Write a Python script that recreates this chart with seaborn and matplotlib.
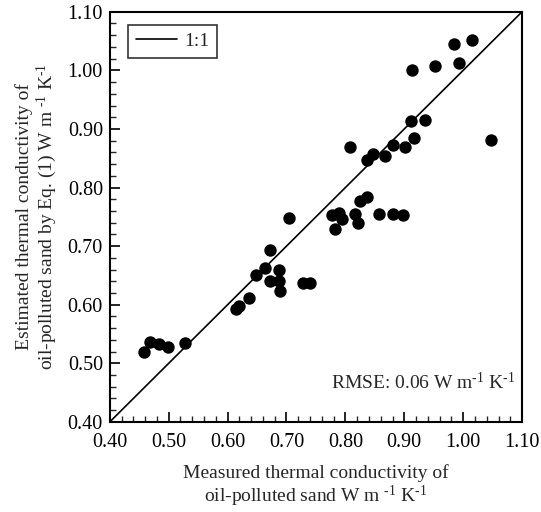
import numpy as np
import pandas as pd
import matplotlib
matplotlib.use("Agg")
import matplotlib.pyplot as plt
import seaborn as sns
from matplotlib.ticker import MultipleLocator, FormatStrFormatter

measured = [0.458, 0.468, 0.483, 0.499, 0.527, 0.614, 0.619, 0.637, 0.648, 0.663,
            0.672, 0.672, 0.688, 0.688, 0.689, 0.704, 0.728, 0.740, 0.777, 0.782,
            0.789, 0.794, 0.817, 0.821, 0.824, 0.837, 0.857, 0.881, 0.897, 0.808,
            0.836, 0.847, 0.868, 0.881, 0.901, 0.911, 0.916, 0.936, 0.913, 0.953,
            0.984, 0.993, 1.015, 1.047]
estimated = [0.519, 0.536, 0.533, 0.527, 0.534, 0.593, 0.598, 0.611, 0.651, 0.663,
             0.694, 0.641, 0.659, 0.641, 0.624, 0.748, 0.637, 0.637, 0.753, 0.729,
             0.757, 0.747, 0.755, 0.740, 0.777, 0.784, 0.755, 0.755, 0.753, 0.870,
             0.847, 0.858, 0.854, 0.873, 0.870, 0.913, 0.884, 0.916, 1.000, 1.008,
             1.045, 1.013, 1.052, 0.881]
one_to_one = [0.40, 1.10]
ticks = [0.40, 0.50, 0.60, 0.70, 0.80, 0.90, 1.00, 1.10]

df = pd.DataFrame({"measured": measured, "estimated": estimated})
line_df = pd.DataFrame({"x": one_to_one, "y": one_to_one})

sns.set_style("white")
plt.rcParams["font.family"] = ["Liberation Serif", "DejaVu Serif"]
plt.rcParams["mathtext.fontset"] = "custom"
plt.rcParams["mathtext.rm"] = "Liberation Serif"
plt.rcParams["mathtext.it"] = "Liberation Serif"
plt.rcParams["axes.unicode_minus"] = False

fig = plt.figure(figsize=(5.41, 5.12), dpi=100)
ax = fig.add_axes([0.203, 0.176, 0.762, 0.801])

sns.lineplot(data=line_df, x="x", y="y", ax=ax, color="black", linewidth=1.2,
             label="1:1", legend=False)
sns.scatterplot(data=df, x="measured", y="estimated", ax=ax, color="black",
                s=80, edgecolor="black", linewidth=0, zorder=3, legend=False)

ax.set_xlim(0.40, 1.10)
ax.set_ylim(0.40, 1.10)
ax.set_xticks(ticks)
ax.set_yticks(ticks)
ax.xaxis.set_major_formatter(FormatStrFormatter("%.2f"))
ax.yaxis.set_major_formatter(FormatStrFormatter("%.2f"))
ax.xaxis.set_minor_locator(MultipleLocator(0.02))
ax.yaxis.set_minor_locator(MultipleLocator(0.02))
ax.tick_params(axis="both", which="major", direction="in", length=7, width=1.2,
               labelsize=14.5, colors="black", bottom=True, left=True, top=False, right=False, pad=5)
ax.tick_params(axis="x", which="major", pad=8)
ax.tick_params(axis="both", which="minor", direction="in", length=4, width=1.0,
               bottom=True, left=True, top=False, right=False)
for sp in ax.spines.values():
    sp.set_color("black")
    sp.set_linewidth(1.5)

sup = r"$^{\text{-1}}$"
ax.set_xlabel("Measured thermal conductivity of\noil-polluted sand W m " + sup + " K" + sup,
              fontsize=14, labelpad=9, linespacing=1.1)
ax.set_ylabel("Estimated thermal conductivity of\noil-polluted sand by Eq. (1) W m " + sup + " K" + sup,
              fontsize=14, labelpad=6, linespacing=1.1)

ax.text(0.985, 0.095, "RMSE: 0.06 W m" + sup + " K" + sup, transform=ax.transAxes,
        ha="right", va="center", fontsize=14)

leg = ax.legend(handles=[ax.lines[0]], labels=["1:1"], loc="upper left",
                bbox_to_anchor=(0.044, 0.968), borderaxespad=0, fontsize=14,
                frameon=True, fancybox=False, handlelength=2.1, borderpad=0.4,
                handletextpad=0.4)
leg.get_frame().set_edgecolor("black")
leg.get_frame().set_linewidth(1.2)

fig.savefig("out.png", dpi=100)
